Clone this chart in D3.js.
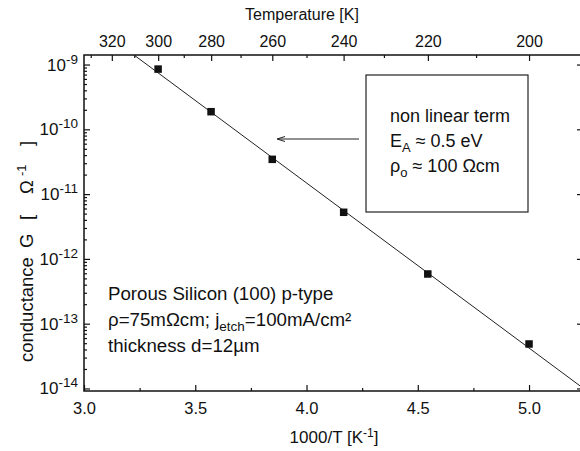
<!DOCTYPE html>
<html>
<head>
<meta charset="utf-8">
<script src="https://cdn.jsdelivr.net/npm/d3@7"></script>
<style>
  body { margin: 0; background: #fff; }
  svg text { font-family: "Liberation Sans", Arial, sans-serif; fill: #111; }
  .axis path { display: none; }
  .axis line { stroke: #111; stroke-width: 1.2; }
</style>
</head>
<body>
<svg id="chart" width="580" height="451"></svg>
<script>
// measured points: 1000/T [1/K] and conductance G [1/Ohm]
var invT        = [3.333, 3.571, 3.846, 4.167, 4.545, 5.000];
var conductance = [8.5e-10, 1.87e-10, 3.44e-11, 5.24e-12, 5.85e-13, 4.86e-14];

// Arrhenius fit line end points
var fitX = [3.225, 5.261];
var fitG = [1.40e-9, 9.1e-15];

// tick labels
var xTicks     = [3.0, 3.5, 4.0, 4.5, 5.0];
var xMinor     = [3.25, 3.75, 4.25, 4.75];
var tempLabels = [320, 300, 280, 260, 240, 220, 200];
var tempMinor  = [330, 310, 290, 270, 250, 230, 210];
var decades    = [-14, -13, -12, -11, -10, -9];

var svg = d3.select('#chart');
var plotL = 84, plotR = 582, plotT = 55, plotB = 391;

var x = d3.scaleLinear().domain([3, 5.238]).range([plotL, plotR]);
var y = d3.scaleLog()
    .domain([Math.pow(10, -14.039), Math.pow(10, -8.853)])
    .range([plotB, plotT]);

var majorG = decades.map(function (e) { return Math.pow(10, e); });
var minorG = [];
decades.forEach(function (e) {
  for (var m = 2; m <= 9; m++) {
    var v = m * Math.pow(10, e);
    if (v < y.domain()[1]) minorG.push(v);
  }
});

// bottom axis
svg.append('g').attr('class', 'axis')
    .attr('transform', 'translate(0,' + plotB + ')')
    .call(d3.axisBottom(x).tickValues(xTicks).tickSize(-6).tickPadding(11)
      .tickFormat(d3.format('.1f')))
    .selectAll('text').style('font-size', '16.5px');
svg.append('g').attr('class', 'axis')
    .attr('transform', 'translate(0,' + plotB + ')')
    .call(d3.axisBottom(x).tickValues(xMinor).tickSize(-3).tickFormat(''));

// top axis: temperature
svg.append('g').attr('class', 'axis')
    .attr('transform', 'translate(0,' + plotT + ')')
    .call(d3.axisTop(x).tickValues(tempLabels.map(function (t) { return 1000 / t; }))
      .tickSize(-6).tickPadding(8)
      .tickFormat(function (d) { return Math.round(1000 / d); }))
    .selectAll('text').style('font-size', '16px');
svg.append('g').attr('class', 'axis')
    .attr('transform', 'translate(0,' + plotT + ')')
    .call(d3.axisTop(x).tickValues(tempMinor.map(function (t) { return 1000 / t; }))
      .tickSize(-3).tickFormat(''));

// left axis
svg.append('g').attr('class', 'axis')
    .attr('transform', 'translate(' + plotL + ',0)')
    .call(d3.axisLeft(y).tickValues(majorG).tickSize(-6).tickFormat(''));
svg.append('g').attr('class', 'axis')
    .attr('transform', 'translate(' + plotL + ',0)')
    .call(d3.axisLeft(y).tickValues(minorG).tickSize(-3).tickFormat(''));

// right axis (major ticks only)
svg.append('g').attr('class', 'axis')
    .attr('transform', 'translate(' + plotR + ',0)')
    .call(d3.axisRight(y).tickValues(majorG).tickSize(-5).tickFormat(''));

// left tick labels 10^n
var yl = svg.append('g');
decades.forEach(function (e) {
  var t = yl.append('text')
      .attr('x', 78)
      .attr('y', y(Math.pow(10, e)) + 6)
      .attr('text-anchor', 'end')
      .style('font-size', '17px');
  t.append('tspan').text('10');
  t.append('tspan').attr('dy', -7).style('font-size', '13.5px').text('-' + (-e));
});

// frame
svg.append('rect')
    .attr('x', plotL).attr('y', plotT)
    .attr('width', plotR - plotL).attr('height', plotB - plotT)
    .attr('fill', 'none').attr('stroke', '#111').attr('stroke-width', 1.5);

// axis titles
svg.append('text')
    .attr('x', 302).attr('y', 20)
    .attr('text-anchor', 'middle')
    .style('font-size', '16px')
    .text('Temperature [K]');

var xt = svg.append('text')
    .attr('x', 334).attr('y', 443)
    .attr('text-anchor', 'middle')
    .style('font-size', '17px');
xt.append('tspan').text('1000/T [K');
xt.append('tspan').attr('dy', -6).style('font-size', '12px').text('-1');
xt.append('tspan').attr('dy', 6).text(']');

// y title, pieces spaced as in the original
var yt = svg.append('text')
    .attr('transform', 'translate(33,0) rotate(-90)')
    .style('font-size', '18.5px');
yt.append('tspan').attr('x', -362).text('conductance');
yt.append('tspan').attr('x', -248).text('G');
yt.append('tspan').attr('x', -220).text('[');
yt.append('tspan').attr('x', -194).text('\u03A9');
yt.append('tspan').attr('x', -176).attr('dy', -7).style('font-size', '13px').text('-1');
yt.append('tspan').attr('x', -146).attr('dy', 7).text(']');

// clip for fit line
svg.append('clipPath').attr('id', 'plotClip')
  .append('rect')
    .attr('x', plotL).attr('y', plotT)
    .attr('width', plotR - plotL).attr('height', plotB - plotT);

var fit = fitX.map(function (d, i) { return [d, fitG[i]]; });
svg.append('path')
    .datum(fit)
    .attr('clip-path', 'url(#plotClip)')
    .attr('fill', 'none')
    .attr('stroke', '#222')
    .attr('stroke-width', 1)
    .attr('d', d3.line()
      .x(function (d) { return x(d[0]); })
      .y(function (d) { return y(d[1]); }));

// data squares
var sq = 7.5;
svg.selectAll('rect.pt')
    .data(invT)
    .enter().append('rect')
    .attr('class', 'pt')
    .attr('x', function (d) { return x(d) - sq / 2; })
    .attr('y', function (d, i) { return y(conductance[i]) - sq / 2; })
    .attr('width', sq).attr('height', sq)
    .attr('fill', '#111');

// annotation box + arrow
svg.append('rect')
    .attr('x', 366).attr('y', 75)
    .attr('width', 162).attr('height', 137)
    .attr('fill', '#fff').attr('stroke', '#222').attr('stroke-width', 1.2);

svg.append('line')
    .attr('x1', 359).attr('y1', 139).attr('x2', 278).attr('y2', 139)
    .attr('stroke', '#222').attr('stroke-width', 1);
svg.append('path')
    .attr('d', 'M285,136.5 L277,139 L285,141.5')
    .attr('fill', 'none').attr('stroke', '#222').attr('stroke-width', 1);

var boxText = svg.append('g').style('font-size', '18px');
boxText.append('text').attr('x', 390).attr('y', 122).text('non linear term');
var ea = boxText.append('text').attr('x', 390).attr('y', 147);
ea.append('tspan').text('E');
ea.append('tspan').attr('dy', 5).style('font-size', '13px').text('A');
ea.append('tspan').attr('dy', -5).text(' \u2248 0.5 eV');
var rho = boxText.append('text').attr('x', 390).attr('y', 172);
rho.append('tspan').text('\u03C1');
rho.append('tspan').attr('dy', 5).style('font-size', '13px').text('o');
rho.append('tspan').attr('dy', -5).text(' \u2248 100  \u03A9cm');

// sample description
var desc = svg.append('g').style('font-size', '18.7px');
desc.append('text').attr('x', 108).attr('y', 300).text('Porous Silicon (100) p-type');
var l2 = desc.append('text').attr('x', 108).attr('y', 326);
l2.append('tspan').text('\u03C1=75m\u03A9cm; j');
l2.append('tspan').attr('dy', 5).style('font-size', '13.5px').text('etch');
l2.append('tspan').attr('dy', -5).text('=100mA/cm\u00B2');
desc.append('text').attr('x', 108).attr('y', 352).text('thickness d=12\u00B5m');
</script>
</body>
</html>
